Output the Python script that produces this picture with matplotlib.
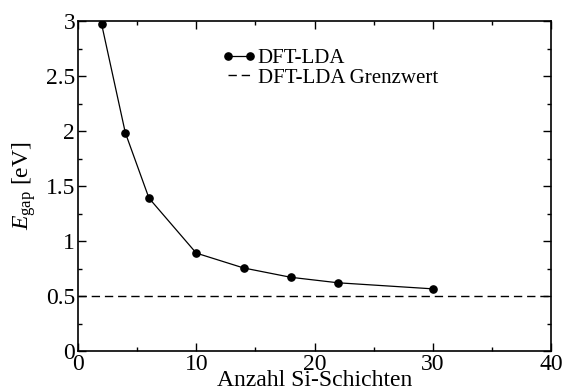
import matplotlib
matplotlib.use("Agg")
import matplotlib.pyplot as plt
from matplotlib.ticker import MultipleLocator
from matplotlib.legend_handler import HandlerLine2D
from matplotlib.lines import Line2D

layers = [2, 4, 6, 10, 14, 18, 22, 30]
gap = [2.97, 1.985, 1.39, 0.89, 0.755, 0.67, 0.62, 0.565]
limit_value = 0.5
ytick_vals = [0, 0.5, 1, 1.5, 2, 2.5, 3]
ytick_labels = ['0', '0.5', '1', '1.5', '2', '2.5', '3']

plt.rcParams['font.family'] = ['Liberation Serif', 'DejaVu Serif']
plt.rcParams['mathtext.fontset'] = 'custom'
plt.rcParams['mathtext.rm'] = 'Liberation Serif'
plt.rcParams['mathtext.it'] = 'Liberation Serif:italic'

fig = plt.figure(figsize=(5.62, 3.92), dpi=100)
ax = fig.add_axes([78/562, 1-351/392, (551-78)/562, (351-21)/392])

ax.plot(layers, gap, '-o', color='black', lw=0.9, ms=5.2, label='DFT-LDA')
ax.axhline(limit_value, color='black', ls=(0, (6, 3.5)), lw=1.0, label='DFT-LDA Grenzwert')

ax.set_xlim(0, 40)
ax.set_ylim(0, 3)
ax.xaxis.set_major_locator(MultipleLocator(10))
ax.xaxis.set_minor_locator(MultipleLocator(5))
ax.yaxis.set_minor_locator(MultipleLocator(0.25))
ax.set_yticks(ytick_vals)
ax.set_yticklabels(ytick_labels)
ax.tick_params(which='both', direction='in', top=True, right=True, labelsize=17, width=1.0)
ax.tick_params(which='major', length=5.5, pad=2)
ax.tick_params(which='minor', length=3)
for s in ax.spines.values():
    s.set_linewidth(1.2)

ax.set_xlabel('Anzahl Si-Schichten', fontsize=17, labelpad=-3.2)
ax.set_ylabel(r'$E_{\mathrm{gap}}$ [eV]', fontsize=17, labelpad=5.8)

ax.legend(loc='upper left', bbox_to_anchor=(0.317, 0.917), frameon=False, fontsize=15,
          numpoints=2, handlelength=1.05, handletextpad=0.38, labelspacing=0.0,
          borderpad=0, borderaxespad=0,
          handler_map={Line2D: HandlerLine2D(marker_pad=0)})

fig.savefig('out.png', dpi=100)
